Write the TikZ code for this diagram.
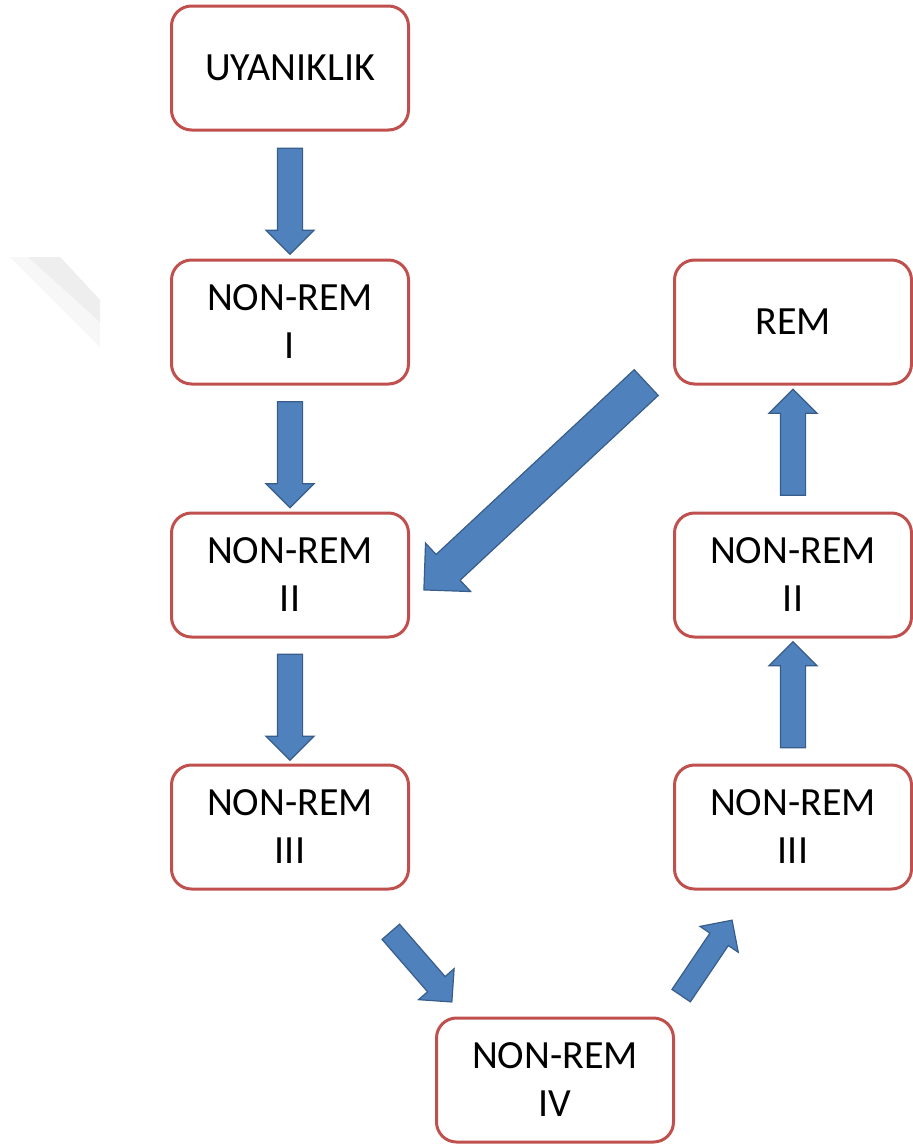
\documentclass[tikz,border=0pt]{standalone}
\usepackage{fontspec}
\setmainfont{Carlito}
\usepackage{tikz}
\usetikzlibrary{arrows, shapes, calc}

\definecolor{boxred}{HTML}{C0504D}
\definecolor{arrblue}{HTML}{4F81BD}
\definecolor{arrline}{HTML}{385D8A}

\begin{document}
\begin{tikzpicture}[x=1pt,y=-1pt]
\useasboundingbox (0,0) rectangle (913,1146);
% faint mark on the left
\fill[gray!6] (10,257) -- (60,257) -- (100,300) -- (100,347) -- cycle;
\fill[gray!13] (28,257) -- (60,257) -- (100,300) -- (100,322) -- cycle;

\begin{scope}[every node/.style={draw=boxred,line width=3pt,rounded corners=20pt,fill=white,
              minimum width=237pt,minimum height=124pt,align=center,
              font=\fontsize{40}{48}\selectfont}]
    \node (A) at (290,68) {UYANIKLIK};
    \node (B) at (290,322) {NON-REM\\I};
    \node (C) at (290,575) {NON-REM\\II};
    \node (D) at (290,827) {NON-REM\\III};
    \node (E) at (555,1080) {NON-REM\\IV};
    \node (F) at (793,827) {NON-REM\\III};
    \node (G) at (793,575) {NON-REM\\II};
    \node (H) at (793,322) {REM};
\end{scope}

\begin{scope}[every node/.style={single arrow,draw=arrline,fill=arrblue,line width=1.2pt,
              inner xsep=0pt,inner ysep=12pt,single arrow head extend=11.5pt,
              minimum width=47pt,minimum height=106pt}]
    \node[rotate=-90] (AB) at ($(A.south)!0.5!(B.north)$) {};
    \node[rotate=-90] (BC) at ($(B.south)!0.5!(C.north)$) {};
    \node[rotate=-90] (CD) at ($(C.south)!0.5!(D.north)$) {};
    \node[rotate=-49,minimum height=93pt,inner ysep=11pt,single arrow head extend=12pt,
          minimum width=46pt] (DE) at ($(D.south east)!0.5!(E.north west)+(-5,9)$) {};
    \node[rotate=56,minimum height=91pt,inner ysep=10.5pt,single arrow head extend=12pt,
          minimum width=45pt] (EF) at ($(E.north east)!0.5!(F.south west)+(29.5,9)$) {};
    \node[rotate=90] (FG) at ($(F.north)!0.5!(G.south)$) {};
    \node[rotate=90] (GH) at ($(G.north)!0.5!(H.south)$) {};
    \node[rotate=223,minimum height=304pt,inner ysep=17pt,single arrow head extend=15.5pt,
          minimum width=65pt] (HC) at ($(H.south west)!0.5!(C.east)$) {};
\end{scope}
\end{tikzpicture}
\end{document}
